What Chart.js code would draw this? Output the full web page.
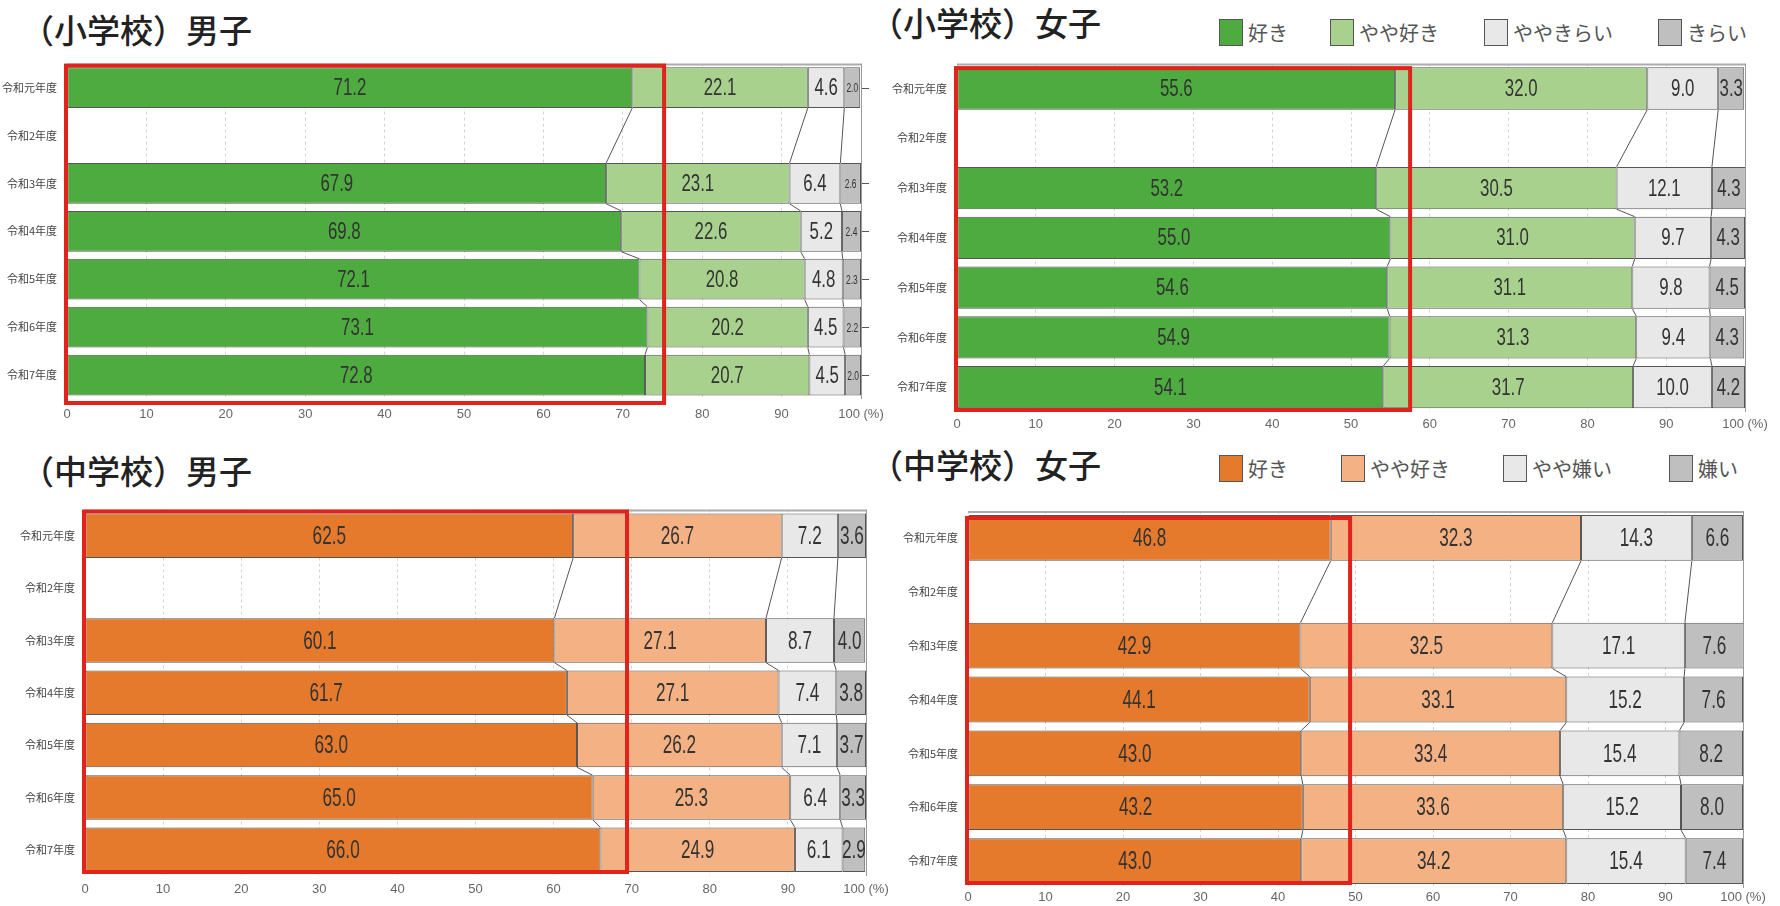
<!DOCTYPE html>
<html lang="ja">
<head>
<meta charset="utf-8">
<title>好き・嫌い</title>
<script src="https://cdn.jsdelivr.net/npm/chart.js@4.4.1/dist/chart.umd.min.js"></script>
<style>
  html, body { margin: 0; padding: 0; background: #fff; }
  body { width: 1780px; height: 906px; position: relative; overflow: hidden; font-family: 'Noto Sans CJK JP', sans-serif; }
  .title { position: absolute; font-size: 33px; font-weight: 500; line-height: 1; color: #222; white-space: nowrap; }
  .legend-item { position: absolute; display: flex; align-items: center; height: 28px; font-size: 20px; color: #555; white-space: nowrap; }
  .legend-item .box { width: 24px; height: 27px; border: 1px solid #555; box-sizing: border-box; margin-right: 5px; }
  .wrap { position: absolute; }
</style>
</head>
<body>

<div class="title" style="left:21px; top:13px;">（小学校）男子</div>
<div class="title" style="left:870px; top:6px;">（小学校）女子</div>
<div class="title" style="left:21px; top:454px;">（中学校）男子</div>
<div class="title" style="left:870px; top:448px;">（中学校）女子</div>

<div id="legendTop"></div>
<div id="legendBottom"></div>

<div class="wrap" style="left:0px; top:55px;"><canvas id="esBoy" width="900" height="380"></canvas></div>
<div class="wrap" style="left:890px; top:55px;"><canvas id="esGirl" width="890" height="390"></canvas></div>
<div class="wrap" style="left:0px; top:500px;"><canvas id="jhBoy" width="900" height="406"></canvas></div>
<div class="wrap" style="left:890px; top:500px;"><canvas id="jhGirl" width="890" height="406"></canvas></div>

<script>
/* ─── Data ─────────────────────────────────────────────── */

const years = ['令和元年度', '令和2年度', '令和3年度', '令和4年度', '令和5年度', '令和6年度', '令和7年度'];

const answersElem   = ['好き', 'やや好き', 'ややきらい', 'きらい'];
const answersJunior = ['好き', 'やや好き', 'やや嫌い', '嫌い'];

const xTickLabels = ['0', '10', '20', '30', '40', '50', '60', '70', '80', '90', '100 (%)'];

// 小学校 男子
const esBoyLike         = [71.2, null, 67.9, 69.8, 72.1, 73.1, 72.8];
const esBoySomewhat     = [22.1, null, 23.1, 22.6, 20.8, 20.2, 20.7];
const esBoySomewhatDis  = [4.6,  null, 6.4,  5.2,  4.8,  4.5,  4.5];
const esBoyDislike      = [2.0,  null, 2.6,  2.4,  2.3,  2.2,  2.0];

// 小学校 女子
const esGirlLike        = [55.6, null, 53.2, 55.0, 54.6, 54.9, 54.1];
const esGirlSomewhat    = [32.0, null, 30.5, 31.0, 31.1, 31.3, 31.7];
const esGirlSomewhatDis = [9.0,  null, 12.1, 9.7,  9.8,  9.4,  10.0];
const esGirlDislike     = [3.3,  null, 4.3,  4.3,  4.5,  4.3,  4.2];

// 中学校 男子
const jhBoyLike         = [62.5, null, 60.1, 61.7, 63.0, 65.0, 66.0];
const jhBoySomewhat     = [26.7, null, 27.1, 27.1, 26.2, 25.3, 24.9];
const jhBoySomewhatDis  = [7.2,  null, 8.7,  7.4,  7.1,  6.4,  6.1];
const jhBoyDislike      = [3.6,  null, 4.0,  3.8,  3.7,  3.3,  2.9];

// 中学校 女子
const jhGirlLike        = [46.8, null, 42.9, 44.1, 43.0, 43.2, 43.0];
const jhGirlSomewhat    = [32.3, null, 32.5, 33.1, 33.4, 33.6, 34.2];
const jhGirlSomewhatDis = [14.3, null, 17.1, 15.2, 15.4, 15.2, 15.4];
const jhGirlDislike     = [6.6,  null, 7.6,  7.6,  8.2,  8.0,  7.4];

// red highlight box: right edge, in % units
const highlightMax = [75.2, 57.5, 69.4, 49.3];

/* ─── Styles ───────────────────────────────────────────── */

const greens  = ['#4dab3f', '#a9d18e', '#e8e8e8', '#bfbfbf'];
const oranges = ['#e57a2c', '#f4b183', '#e8e8e8', '#bfbfbf'];

/* ─── Plugins ──────────────────────────────────────────── */

const framePlugin = {
  id: 'frame',
  beforeDatasetsDraw(chart) {
    const { ctx, chartArea: a } = chart;
    ctx.save();
    ctx.strokeStyle = '#ababab';
    ctx.lineWidth = 2;
    ctx.beginPath();
    ctx.moveTo(a.left, a.top + 1);
    ctx.lineTo(a.right, a.top + 1);
    ctx.stroke();
    ctx.lineWidth = 1;
    ctx.strokeStyle = '#9a9a9a';
    ctx.beginPath();
    ctx.moveTo(a.right + 0.5, a.top);
    ctx.lineTo(a.right + 0.5, a.bottom);
    ctx.stroke();
    ctx.restore();
  }
};

// lines joining the segment borders of consecutive years
const linkPlugin = {
  id: 'links',
  afterDatasetsDraw(chart) {
    const ctx = chart.ctx;
    const first = chart.data.datasets[0].data;
    const rows = first.map((v, i) => i).filter(i => first[i] != null);
    ctx.save();
    ctx.strokeStyle = '#555';
    ctx.lineWidth = 1;
    for (let d = 0; d < chart.data.datasets.length - 1; d++) {
      const bars = chart.getDatasetMeta(d).data;
      for (let r = 0; r + 1 < rows.length; r++) {
        const a = bars[rows[r]], b = bars[rows[r + 1]];
        ctx.beginPath();
        ctx.moveTo(a.x, a.y + a.height / 2);
        ctx.lineTo(b.x, b.y - b.height / 2);
        ctx.stroke();
      }
    }
    ctx.restore();
  }
};

const valuePlugin = {
  id: 'values',
  afterDatasetsDraw(chart, args, opts) {
    const ctx = chart.ctx;
    const area = chart.chartArea;
    const last = chart.data.datasets.length - 1;
    chart.data.datasets.forEach((ds, d) => {
      chart.getDatasetMeta(d).data.forEach((bar, i) => {
        const v = ds.data[i];
        if (v == null) return;
        const small = opts.smallLast && d === last;
        const cx = (bar.x + bar.base) / 2;
        ctx.save();
        ctx.fillStyle = '#333';
        ctx.textAlign = 'center';
        ctx.textBaseline = 'middle';
        ctx.font = (small ? 13 : opts.size) + "px 'Liberation Sans', Arial, sans-serif";
        ctx.translate(cx, bar.y + 1);
        ctx.scale(small ? 0.65 : opts.squeeze, 1);
        ctx.fillText(v.toFixed(1), 0, 0);
        ctx.restore();
        if (small) {
          ctx.save();
          ctx.strokeStyle = '#555';
          ctx.lineWidth = 1;
          ctx.beginPath();
          ctx.moveTo(area.right + 1, Math.round(bar.y) + 0.5);
          ctx.lineTo(area.right + 8, Math.round(bar.y) + 0.5);
          ctx.stroke();
          ctx.restore();
        }
      });
    });
  }
};

const focusPlugin = {
  id: 'focus',
  afterDraw(chart, args, opts) {
    const { ctx, chartArea: a } = chart;
    const x = chart.scales.x;
    const x0 = x.getPixelForValue(0) - 1;
    const x1 = x.getPixelForValue(opts.max);
    const y0 = a.top + opts.top;
    const y1 = a.bottom + opts.bottom;
    ctx.save();
    ctx.strokeStyle = '#e0241c';
    ctx.lineWidth = 4;
    ctx.strokeRect(x0, y0, x1 - x0, y1 - y0);
    ctx.restore();
  }
};

/* ─── Charts ───────────────────────────────────────────── */

function stackedChart(cfg) {
  const datasets = cfg.series.map((data, k) => ({
    label: cfg.names[k],
    data,
    backgroundColor: cfg.colors[k],
    borderColor: '#555',
    borderWidth: 1,
    borderSkipped: false,
    barPercentage: 0.85,
    categoryPercentage: 1
  }));

  return new Chart(document.getElementById(cfg.id), {
    type: 'bar',
    data: { labels: years, datasets },
    options: {
      responsive: false,
      animation: false,
      indexAxis: 'y',
      layout: { padding: { left: 0, right: cfg.pr, top: cfg.pt, bottom: 0 } },
      scales: {
        x: {
          stacked: true,
          min: 0,
          max: 100,
          afterFit: s => { s.height = cfg.xh; },
          grid: { color: '#d2d4da', lineWidth: 1, drawTicks: false },
          border: { display: false, dash: [3, 3] },
          ticks: {
            stepSize: 10,
            autoSkip: false,
            maxRotation: 0,
            padding: cfg.tp,
            color: '#666',
            font: { family: "'Liberation Sans Narrow', 'Liberation Sans', sans-serif", size: 13 },
            callback: (v, i) => xTickLabels[i]
          }
        },
        y: {
          stacked: true,
          afterFit: s => { s.width = cfg.yw; },
          grid: { display: false },
          border: { display: false },
          ticks: {
            padding: 2,
            color: '#444',
            font: { family: "'Noto Sans CJK JP', sans-serif", size: 11 }
          }
        }
      },
      plugins: {
        legend: { display: false },
        tooltip: { enabled: false },
        values: { size: cfg.vs, squeeze: cfg.sq, smallLast: !!cfg.smallLast },
        focus: { max: cfg.focus, top: cfg.ft, bottom: cfg.fb }
      }
    },
    plugins: [framePlugin, linkPlugin, valuePlugin, focusPlugin]
  });
}

stackedChart({
  id: 'esBoy', names: answersElem, colors: greens,
  series: [esBoyLike, esBoySomewhat, esBoySomewhatDis, esBoyDislike],
  yw: 67, pr: 39, pt: 6.5, xh: 36, tp: 8, vs: 24, sq: 0.7, smallLast: true,
  focus: highlightMax[0], ft: 2, fb: 4
});

stackedChart({
  id: 'esGirl', names: answersElem, colors: greens,
  series: [esGirlLike, esGirlSomewhat, esGirlSomewhatDis, esGirlDislike],
  yw: 67, pr: 35, pt: 8.5, xh: 33, tp: 5, vs: 24, sq: 0.7,
  focus: highlightMax[1], ft: 4.5, fb: -2
});

stackedChart({
  id: 'jhBoy', names: answersJunior, colors: oranges,
  series: [jhBoyLike, jhBoySomewhat, jhBoySomewhatDis, jhBoyDislike],
  yw: 85, pr: 34, pt: 9.5, xh: 30, tp: 6, vs: 26, sq: 0.66,
  focus: highlightMax[2], ft: 2, fb: -4
});

stackedChart({
  id: 'jhGirl', names: answersJunior, colors: oranges,
  series: [jhGirlLike, jhGirlSomewhat, jhGirlSomewhatDis, jhGirlDislike],
  yw: 78, pr: 37, pt: 11, xh: 18, tp: 2, vs: 26, sq: 0.66,
  focus: highlightMax[3], ft: 7, fb: -5
});

/* ─── Legends ──────────────────────────────────────────── */

function legend(el, names, colors, xs, top) {
  const holder = document.getElementById(el);
  names.forEach((name, k) => {
    const item = document.createElement('div');
    item.className = 'legend-item';
    item.style.left = xs[k] + 'px';
    item.style.top = top + 'px';
    item.innerHTML = `<span class="box" style="background:${colors[k]}"></span><span>${name}</span>`;
    holder.appendChild(item);
  });
}

legend('legendTop', answersElem, greens, [1219, 1330, 1484, 1658], 18);
legend('legendBottom', answersJunior, oranges, [1219, 1341, 1503, 1669], 454);
</script>
</body>
</html>
